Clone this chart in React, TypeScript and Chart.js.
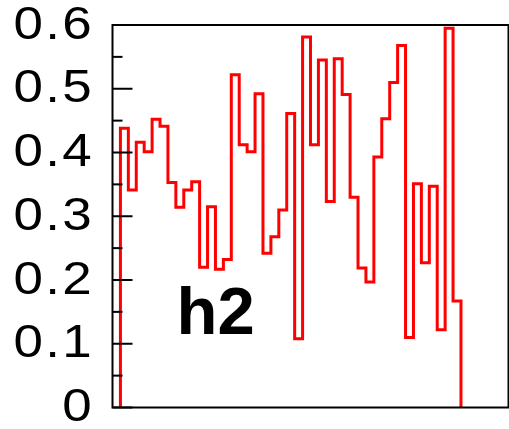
import { useEffect, useRef } from 'react';
import { Chart, registerables } from 'chart.js';

Chart.register(...registerables);

// Histogram definition: 50 equal bins on [0, 50]
const nBins = 50;
const xMin = 0;
const xMax = 50;

// Bin contents (bin 0 and bins 44..49 are empty)
const binContents = [
  0,
  0.438, 0.341, 0.416, 0.401, 0.452, 0.441, 0.353, 0.314, 0.341, 0.354,
  0.220, 0.315, 0.217, 0.232, 0.522, 0.412, 0.401, 0.492, 0.242, 0.268,
  0.310, 0.461, 0.108, 0.581, 0.412, 0.545, 0.323, 0.547, 0.491, 0.330,
  0.219, 0.197, 0.393, 0.453, 0.510, 0.568, 0.110, 0.351, 0.227, 0.347,
  0.122, 0.595, 0.167,
  0, 0, 0, 0, 0, 0,
];

// Y axis range, major ticks and their labels
const yMin = 0;
const yMax = 0.6;
const yMajorTicks = [0, 0.1, 0.2, 0.3, 0.4, 0.5, 0.6];
const yTickLabels = ['0', '0.1', '0.2', '0.3', '0.4', '0.5', '0.6'];
const yMinorStep = 0.05;

const histName = 'h2';

// Outline of the histogram: a horizontal segment per bin, joined by vertical steps
function histogramOutline() {
  const bw = (xMax - xMin) / nBins;
  let first = binContents.findIndex((v) => v > 0);
  let last = -1;
  binContents.forEach((v, i) => {
    if (v > 0) last = i;
  });
  if (first < 0) first = 0;
  const pts: { x: number; y: number }[] = [];
  pts.push({ x: xMin + first * bw, y: 0 });
  for (let i = first; i <= last; i++) {
    pts.push({ x: xMin + i * bw, y: binContents[i] });
    pts.push({ x: xMin + (i + 1) * bw, y: binContents[i] });
  }
  pts.push({ x: xMin + (last + 1) * bw, y: 0 });
  return pts;
}

export default function App() {
  const ref = useRef<HTMLCanvasElement>(null);

  useEffect(() => {
    if (!ref.current) return;

    const framePlugin = {
      id: 'frameAndTicks',
      afterDraw(chart: any) {
        const { ctx, chartArea } = chart;
        const ys = chart.scales.y;
        ctx.save();
        // inner tick marks on the left axis
        ctx.strokeStyle = '#000';
        ctx.lineWidth = 2;
        const nMinor = Math.round((yMax - yMin) / yMinorStep);
        for (let k = 0; k <= nMinor; k++) {
          const v = yMin + k * yMinorStep;
          const y = ys.getPixelForValue(v);
          const len = k % 2 === 0 ? 20 : 10;
          ctx.beginPath();
          ctx.moveTo(chartArea.left, y);
          ctx.lineTo(chartArea.left + len, y);
          ctx.stroke();
        }
        // frame
        ctx.strokeRect(
          chartArea.left,
          chartArea.top,
          chartArea.right - chartArea.left,
          chartArea.bottom - chartArea.top
        );
        // axis labels: wide Helvetica-style digits, right aligned left of the frame
        ctx.fillStyle = '#000';
        ctx.font = '46px "Liberation Sans", Arial, sans-serif';
        ctx.textAlign = 'right';
        ctx.textBaseline = 'middle';
        ctx.letterSpacing = '2px';
        ys.ticks.forEach((t: any, i: number) => {
          const y = ys.getPixelForValue(t.value);
          ctx.save();
          ctx.translate(chartArea.left - 18.5, y + 1);
          ctx.scale(1.15, 1);
          ctx.fillText(yTickLabels[i], 0, 0);
          ctx.restore();
        });
        ctx.letterSpacing = '0px';
        // histogram name
        ctx.font = 'bold 67px "Liberation Sans", Arial, sans-serif';
        ctx.textAlign = 'left';
        ctx.textBaseline = 'alphabetic';
        ctx.fillText(histName, chartArea.left + 64, chartArea.bottom - 74);
        ctx.restore();
      },
    };

    const chart = new Chart(ref.current, {
      type: 'line',
      data: {
        datasets: [
          {
            data: histogramOutline(),
            borderColor: '#ff0000',
            borderWidth: 3,
            pointRadius: 0,
            tension: 0,
            fill: false,
            borderJoinStyle: 'miter',
            clip: false as any,
          },
        ],
      },
      options: {
        responsive: false,
        animation: false,
        events: [],
        layout: { padding: { left: 0, top: 25, right: 0.5, bottom: 21.5 } },
        plugins: {
          legend: { display: false },
          tooltip: { enabled: false },
          title: { display: false },
        },
        scales: {
          x: { type: 'linear', min: xMin, max: xMax, display: false },
          y: {
            type: 'linear',
            min: yMin,
            max: yMax,
            afterBuildTicks: (s: any) => {
              s.ticks = yMajorTicks.map((v) => ({ value: v }));
            },
            afterFit: (s: any) => {
              s.width = 112.5;
              s.paddingTop = 0;
              s.paddingBottom = 0;
            },
            grid: { display: false, drawTicks: false },
            border: { display: false },
            ticks: { display: false },
          },
        },
      },
      plugins: [framePlugin],
    });

    return () => chart.destroy();
  }, []);

  return (
    <div style={{ position: 'fixed', left: 0, top: 0, width: 509, height: 429, background: '#fff' }}>
      <canvas ref={ref} width={509} height={429} style={{ display: 'block' }} />
    </div>
  );
}
